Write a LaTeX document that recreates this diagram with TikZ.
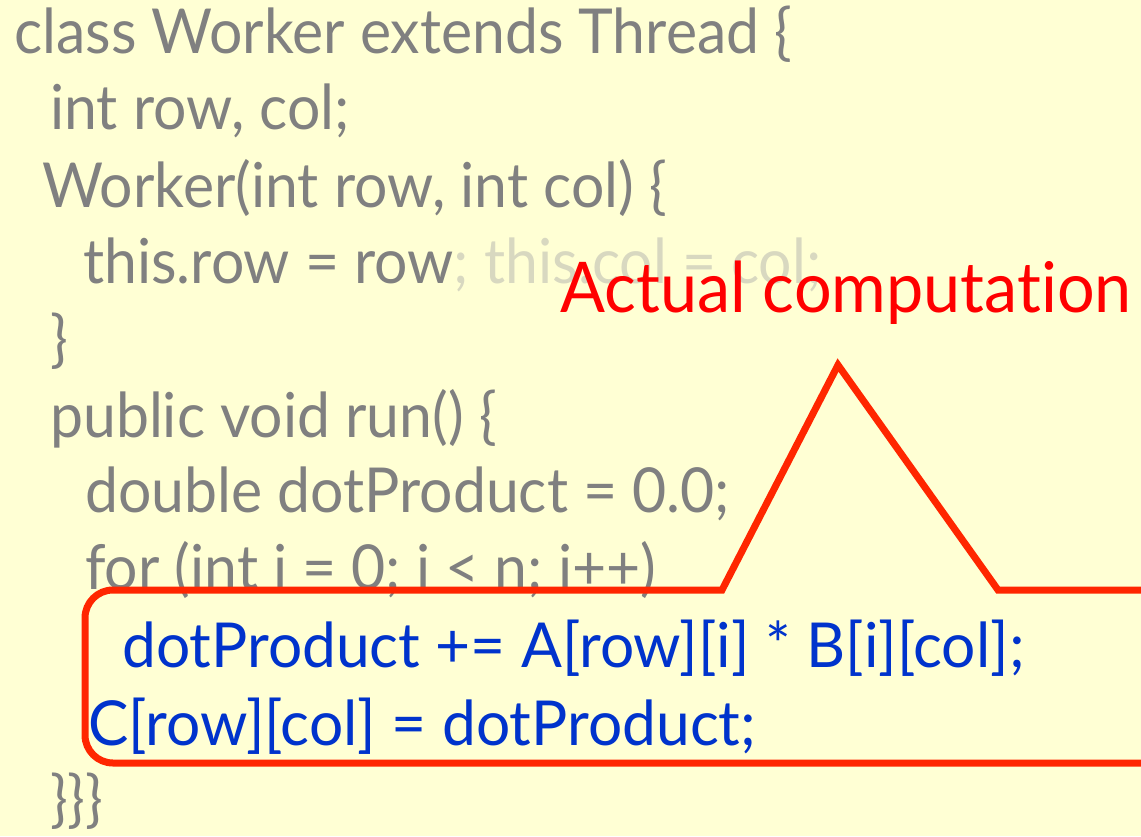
\documentclass[tikz,border=0pt]{standalone}
\usepackage{fontspec}
\setmainfont{Lato}[Ligatures=NoCommon, FakeStretch=0.95]
\newfontfamily\loopfont{Lato}[Ligatures=NoCommon, FakeStretch=0.975]
\definecolor{bgyellow}{HTML}{FFFFD4}
\definecolor{codegray}{HTML}{808080}
\definecolor{fadegray}{HTML}{D8D8C0}
\definecolor{loopblue}{HTML}{0033CC}
\definecolor{calloutred}{HTML}{FF2600}
\tikzset{
  code/.style={anchor=base west, inner sep=0pt, text=codegray, font=\fontsize{62}{70}\selectfont},
  hot/.style={code, text=loopblue, font=\loopfont\fontsize{62}{70}\selectfont},
}
\begin{document}
\begin{tikzpicture}[x=1pt, y=-1pt]
\fill[bgyellow] (0,0) rectangle (1141,836);
\clip (0,0) rectangle (1141,836);
\node[code] (cls) at (14,53) {class Worker extends Thread \{};
\node[code] (fields) at (50,129) {int row, col;};
\node[code] (ctor) at (42,207) {Worker(int row, int col) \{};
\node[code] (assign) at (83,283) {this.row = row\textcolor{fadegray}{; this.col = col;}};
\node[code] (ctorend) at (50,360) {\}};
\node[code] (run) at (50,437) {public void run() \{};
\node[code] (init) at (85,512) {double dotProduct = 0.0;};
\node[code] (loop) at (85,589) {for (int i = 0; i < n; i++)};
\node[hot] (accum) at (122,667) {dotProduct += A[row][i] * B[i][col];};
\node[hot] (store) at (88,745) {C[row][col] = dotProduct;};
\node[code] (close) at (50,820) {\}\}\}};
% callout round the inner loop
\draw[calloutred, line width=7pt, line join=miter]
  (1170,590) -- (998,590) -- (838,365) -- (722,590) -- (113,590)
  arc[start angle=270, end angle=180, radius=28] -- (85,735)
  arc[start angle=180, end angle=90, radius=28] -- (1170,763);
\node[anchor=base west, inner sep=0pt, text=red, font=\fontsize{70}{78}\selectfont] (label) at (560,312) {Actual computation};
\end{tikzpicture}
\end{document}
